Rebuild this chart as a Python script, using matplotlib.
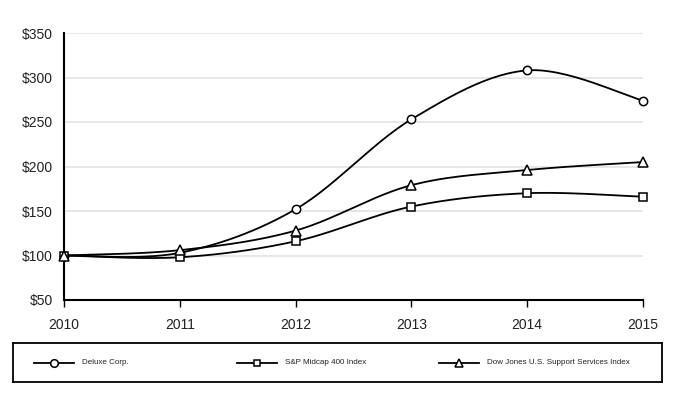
import numpy as np
import matplotlib
matplotlib.use("Agg")
import matplotlib.pyplot as plt

years = [2010, 2011, 2012, 2013, 2014, 2015]
deluxe = [100, 103, 152, 253, 308, 274]
sp400 = [100, 98, 116, 155, 170, 166]
dowjones = [100, 106, 128, 179, 196, 205]
y_ticks = [50, 100, 150, 200, 250, 300, 350]
y_labels = ["$50", "$100", "$150", "$200", "$250", "$300", "$350"]
names = ['Deluxe Corp.', 'S&P Midcap 400 Index', 'Dow Jones U.S. Support Services Index']

plt.rcParams['font.family'] = ['Liberation Sans', 'DejaVu Sans']


def smooth(x, y, n=30):
    x = np.asarray(x, float)
    y = np.asarray(y, float)
    px = np.concatenate([[x[0]], x, [x[-1]]])
    py = np.concatenate([[y[0]], y, [y[-1]]])
    xs, ys = [], []
    t = np.linspace(0, 1, n)
    for i in range(1, len(px) - 2):
        p0 = np.array([px[i], py[i]])
        p3 = np.array([px[i + 1], py[i + 1]])
        c1 = p0 + (np.array([px[i + 1], py[i + 1]]) - np.array([px[i - 1], py[i - 1]])) / 6
        c2 = p3 - (np.array([px[i + 2], py[i + 2]]) - np.array([px[i], py[i]])) / 6
        b = ((1 - t) ** 3)[:, None] * p0 + (3 * (1 - t) ** 2 * t)[:, None] * c1 + \
            (3 * (1 - t) * t ** 2)[:, None] * c2 + (t ** 3)[:, None] * p3
        xs.extend(b[:, 0]); ys.extend(b[:, 1])
    return xs, ys


fig = plt.figure(figsize=(6.76, 3.96), dpi=100)
ax = fig.add_axes([64 / 676, 1 - 300 / 396, (643 - 64) / 676, (300 - 33) / 396])

markers = ['o', 's', '^']
sizes = [6, 5.5, 6.5]
for vals, mk, ms in zip([deluxe, sp400, dowjones], markers, sizes):
    sx, sy = smooth(years, vals)
    ax.plot(sx, sy, color='black', lw=1.3, zorder=3, clip_on=False)
    ax.plot(years, vals, linestyle='none', marker=mk, markersize=ms,
            markerfacecolor='white', markeredgecolor='black', markeredgewidth=1.1,
            zorder=4, clip_on=False)

ax.set_xlim(2010, 2015)
ax.set_ylim(50, 350)
ax.set_yticks(y_ticks)
ax.set_yticklabels(y_labels)
ax.set_xticks(years)
ax.set_xticklabels([str(y) for y in years])
ax.grid(axis='y', color='#e3e3e3', lw=1.2)
ax.set_axisbelow(True)
for s in ['top', 'right']:
    ax.spines[s].set_visible(False)
ax.spines['left'].set_linewidth(1.5)
ax.spines['bottom'].set_linewidth(1.5)
ax.tick_params(axis='y', length=0, pad=8, labelsize=10)
ax.tick_params(axis='x', length=5, width=1, pad=8, labelsize=10)
for lbl in ax.get_xticklabels() + ax.get_yticklabels():
    lbl.set_color('#222222')

# legend box
lx0, lx1, ly0, ly1 = 13, 662, 343, 382
lax = fig.add_axes([lx0 / 676, 1 - ly1 / 396, (lx1 - lx0) / 676, (ly1 - ly0) / 396])
lax.set_xlim(lx0, lx1)
lax.set_ylim(0, 1)
lax.set_xticks([]); lax.set_yticks([])
for s in lax.spines.values():
    s.set_linewidth(1.3)
starts = [34, 237, 439]
for st, mk, ms, nm in zip(starts, markers, sizes, names):
    lax.plot([st, st + 40], [0.5, 0.5], color='black', lw=1.3)
    lax.plot([st + 20], [0.5], marker=mk, markersize=ms - 0.5, markerfacecolor='white',
             markeredgecolor='black', markeredgewidth=1.1)
    lax.text(st + 48, 0.5, nm, fontsize=5.8, va='center', ha='left', color='#222222')

fig.savefig('out.png', dpi=100)
